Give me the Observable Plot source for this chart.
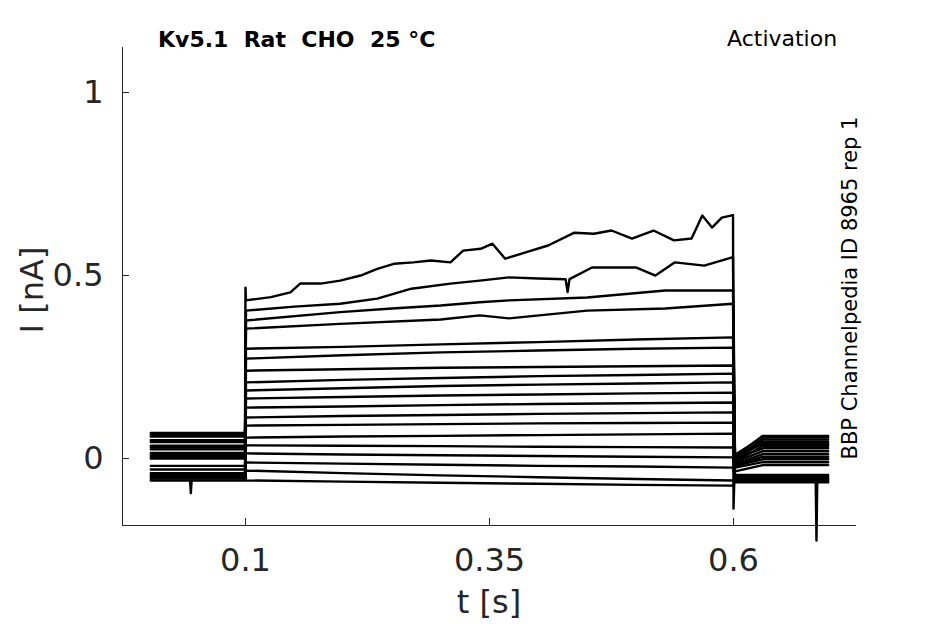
<!DOCTYPE html>
<html><head><meta charset="utf-8">
<script src="https://cdn.jsdelivr.net/npm/d3@7"></script>
<script src="https://cdn.jsdelivr.net/npm/@observablehq/plot@0.6"></script>
<style>
body{margin:0;background:#fff;}
#wrap{position:relative;width:945px;height:624px;}
</style></head><body>
<div id="wrap"></div>
<script>
// ---- axis setup ----
const xDomain = [-0.026, 0.726];
const yDomain = [-0.183, 1.123];
const xTicks = [0.1, 0.35, 0.6];
const yTicks = [0, 0.5, 1];

// ---- protocol times ----
const tStart = 0.003, tOn = 0.1, tOff = 0.6, tEnd = 0.697;

// ---- step-phase traces (current in nA) ----
const flatT = [0.1005, 0.2, 0.3, 0.4, 0.5, 0.5995];
const t1T = [0.1005,0.126,0.146,0.156,0.177,0.197,0.218,0.235,0.252,0.272,0.290,0.310,0.323,0.341,0.353,0.366,0.387,0.410,0.437,0.457,0.475,0.496,0.518,0.539,0.557,0.568,0.578,0.588,0.5995];
const t1V = [0.432,0.441,0.454,0.478,0.478,0.486,0.500,0.518,0.532,0.536,0.541,0.536,0.568,0.573,0.587,0.546,0.563,0.582,0.617,0.614,0.623,0.601,0.623,0.596,0.601,0.664,0.631,0.658,0.665];
const t2T = [0.1005,0.15,0.197,0.235,0.27,0.31,0.34,0.37,0.40,0.428,0.43,0.432,0.455,0.50,0.52,0.54,0.57,0.5995];
const t2V = [0.404,0.415,0.423,0.437,0.464,0.478,0.486,0.495,0.492,0.49,0.455,0.49,0.522,0.522,0.50,0.536,0.527,0.55];
const t3T = [0.1005,0.197,0.25,0.30,0.34,0.37,0.45,0.53,0.5995];
const t3V = [0.377,0.40,0.41,0.418,0.427,0.432,0.44,0.459,0.459];
const t4T = [0.1005,0.197,0.30,0.34,0.37,0.45,0.53,0.5995];
const t4V = [0.355,0.368,0.38,0.391,0.383,0.404,0.41,0.423];
const flatV = [
  [0.300, 0.305, 0.312, 0.318, 0.325, 0.331],
  [0.273, 0.282, 0.290, 0.295, 0.300, 0.303],
  [0.240, 0.244, 0.248, 0.250, 0.252, 0.254],
  [0.208, 0.215, 0.220, 0.225, 0.228, 0.232],
  [0.186, 0.192, 0.198, 0.202, 0.205, 0.208],
  [0.164, 0.168, 0.172, 0.175, 0.178, 0.180],
  [0.139, 0.142, 0.146, 0.149, 0.151, 0.153],
  [0.112, 0.116, 0.119, 0.122, 0.124, 0.126],
  [0.090, 0.092, 0.094, 0.096, 0.097, 0.098],
  [0.057, 0.060, 0.062, 0.064, 0.066, 0.068],
  [0.036, 0.035, 0.034, 0.032, 0.031, 0.030],
  [0.014, 0.011, 0.009, 0.007, 0.005, 0.003],
  [-0.011, -0.014, -0.017, -0.020, -0.022, -0.025],
  [-0.033, -0.040, -0.046, -0.051, -0.056, -0.060],
  [-0.060, -0.063, -0.066, -0.069, -0.072, -0.074]
];

// ---- holding levels before and after the step ----
const preLevel = [0.060, 0.045, 0.025, 0.005, -0.050, 0.065, 0.030, -0.030, 0.000, -0.055, 0.070, 0.015, -0.040, 0.010, -0.060, 0.035, -0.020, -0.045, 0.050];
const postT = [0.6015, 0.63, 0.697];
const postStart = [0.005, 0.010, 0.000, -0.005, 0.005, -0.010, 0.000, -0.010, -0.015, -0.020, -0.020, -0.025, -0.035, -0.045, -0.050, -0.055, -0.060, -0.065, -0.060];
const postEnd = [0.062, 0.058, 0.052, 0.046, 0.040, 0.035, 0.028, 0.020, 0.012, 0.005, -0.002, -0.010, -0.018, -0.045, -0.050, -0.055, -0.058, -0.065, -0.062];

// ---- artefacts (spikes) ----
const spikeTrace = [0, 0, 14, 18];
const spikeT = [0.1, 0.6, 0.044, 0.685];
const spikeV = [0.467, -0.137, -0.095, -0.224];

// ---- build table ----
const stepT = [t1T, t2T, t3T, t4T, ...flatV.map(() => flatT)];
const stepV = [t1V, t2V, t3V, t4V, ...flatV];
const points = [];
stepT.forEach((ts, i) => {
  const pts = [];
  pts.push({t: tStart, v: preLevel[i]});
  pts.push({t: tOn - 0.0005, v: preLevel[i]});
  ts.forEach((t, j) => pts.push({t, v: stepV[i][j]}));
  pts.push({t: postT[0], v: postStart[i]});
  pts.push({t: postT[1], v: postEnd[i]});
  pts.push({t: postT[2], v: postEnd[i]});
  spikeTrace.forEach((k, s) => {
    if (k !== i) return;
    const t = spikeT[s];
    if (t === tOn || t === tOff) { pts.push({t, v: spikeV[s]}); return; }
    const lvl = t < tOn ? preLevel[i] : postEnd[i];
    pts.push({t: t - 0.0008, v: lvl}, {t, v: spikeV[s]}, {t: t + 0.0008, v: lvl});
  });
  pts.sort((a, b) => a.t - b.t);
  pts.forEach(p => points.push({trace: i, t: p.t, v: p.v}));
});

const axisColor = "#262626";
const chart = Plot.plot({
  width: 945, height: 624,
  marginLeft: 122, marginRight: 89, marginTop: 47, marginBottom: 99,
  style: {fontFamily: "DejaVu Sans", fontSize: "32px", color: axisColor, background: "white", overflow: "visible"},
  x: {domain: xDomain},
  y: {domain: yDomain},
  marks: [
    Plot.line(points, {x: "t", y: "v", z: "trace", stroke: "black", strokeWidth: 2.4, strokeLinejoin: "round"}),
    Plot.ruleX([xDomain[0]], {stroke: axisColor, strokeWidth: 1}),
    Plot.ruleY([yDomain[0]], {stroke: axisColor, strokeWidth: 1}),
    Plot.axisX({ticks: xTicks, tickFormat: d => String(d), tickSize: -7, tickPadding: 30, label: null, fontSize: 32, stroke: axisColor}),
    Plot.axisY({ticks: yTicks, tickFormat: d => String(d), tickSize: -7, tickPadding: 26, label: null, fontSize: 32, stroke: axisColor})
  ]
});
document.getElementById("wrap").appendChild(chart);

const svg = d3.select(chart);
svg.append("text").attr("x", 158).attr("y", 47).attr("text-anchor", "start")
  .attr("font-family", "DejaVu Sans").attr("font-size", 22).attr("font-weight", "bold")
  .attr("fill", "black").style("white-space", "pre").text("Kv5.1  Rat  CHO  25 °C");
svg.append("text").attr("x", 727).attr("y", 46).attr("text-anchor", "start")
  .attr("font-family", "DejaVu Sans").attr("font-size", 22)
  .attr("fill", "black").text("Activation");
svg.append("text").attr("transform", "translate(857,288) rotate(-90)")
  .attr("text-anchor", "middle")
  .attr("font-family", "DejaVu Sans").attr("font-size", 21)
  .attr("fill", "black").text("BBP Channelpedia ID 8965 rep 1");
svg.append("text").attr("x", 489).attr("y", 613).attr("text-anchor", "middle")
  .attr("font-family", "DejaVu Sans").attr("font-size", 32)
  .attr("fill", axisColor).text("t [s]");
svg.append("text").attr("transform", "translate(43,290) rotate(-90)").attr("text-anchor", "middle")
  .attr("font-family", "DejaVu Sans").attr("font-size", 32)
  .attr("fill", axisColor).text("I [nA]");
</script>
</body></html>
